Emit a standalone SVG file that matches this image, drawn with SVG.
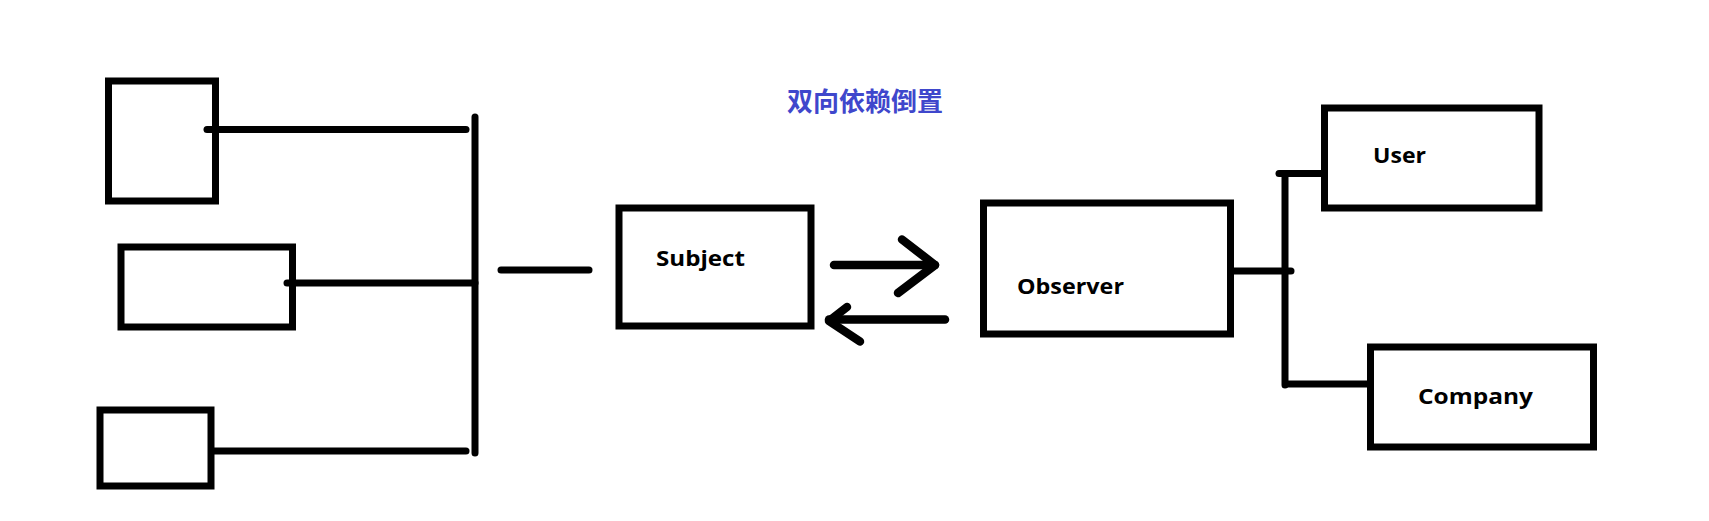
<svg xmlns="http://www.w3.org/2000/svg" width="1709" height="521" viewBox="0 0 1709 521">
<style>
.box{fill:none;stroke:#000;stroke-width:7}
.ln{fill:none;stroke:#000;stroke-width:7;stroke-linecap:round;stroke-linejoin:round}
.arr{fill:none;stroke:#000;stroke-width:8.5;stroke-linecap:round;stroke-linejoin:round}
.lbl{font-family:"Open Sans","Noto Sans","Liberation Sans",sans-serif;font-weight:bold;font-size:22px;fill:#000}
.title{font-family:"Noto Sans CJK SC","Noto Sans",sans-serif;font-weight:bold;font-size:26px;fill:#3f47cc}
</style>
<rect width="1709" height="521" fill="#fff"/>
<g id="title"><text class="title" x="787" y="111">双向依赖倒置</text></g>
<g id="box1"><rect class="box" x="108.5" y="81" width="107" height="120"/></g>
<g id="box2"><rect class="box" x="121" y="247" width="171.5" height="80"/></g>
<g id="box3"><rect class="box" x="100" y="410" width="111" height="76"/></g>
<g id="subject"><rect class="box" x="619" y="208" width="192" height="118"/><text class="lbl" x="656" y="266" textLength="89" lengthAdjust="spacingAndGlyphs">Subject</text></g>
<g id="observer"><rect class="box" x="983.5" y="203" width="247" height="131"/><text class="lbl" x="1017" y="294" textLength="107" lengthAdjust="spacingAndGlyphs">Observer</text></g>
<g id="user"><rect class="box" x="1324.5" y="108" width="214.5" height="100"/><text class="lbl" x="1373" y="163" textLength="53" lengthAdjust="spacingAndGlyphs">User</text></g>
<g id="company"><rect class="box" x="1370.5" y="347" width="223" height="100"/><text class="lbl" x="1418" y="404" textLength="115" lengthAdjust="spacingAndGlyphs">Company</text></g>
<g id="connectors">
<path class="ln" d="M475 117 V453"/>
<path class="ln" d="M207 129.5 H466"/>
<path class="ln" d="M287 283 H475"/>
<path class="ln" d="M214 451 H466"/>
<path class="ln" d="M501 270 H589"/>
<path class="arr" d="M834 265 H935"/>
<path class="arr" d="M902 239.5 L935 265 L898 293"/>
<path class="arr" d="M945 319.5 H829"/>
<path class="arr" d="M847 307 L829 321 L860 341.5"/>
<path class="ln" d="M1234 271 H1291"/>
<path class="ln" d="M1285 174 V385"/>
<path class="ln" d="M1279 173.5 H1321"/>
<path class="ln" d="M1286 384 H1367"/>
</g>
</svg>
